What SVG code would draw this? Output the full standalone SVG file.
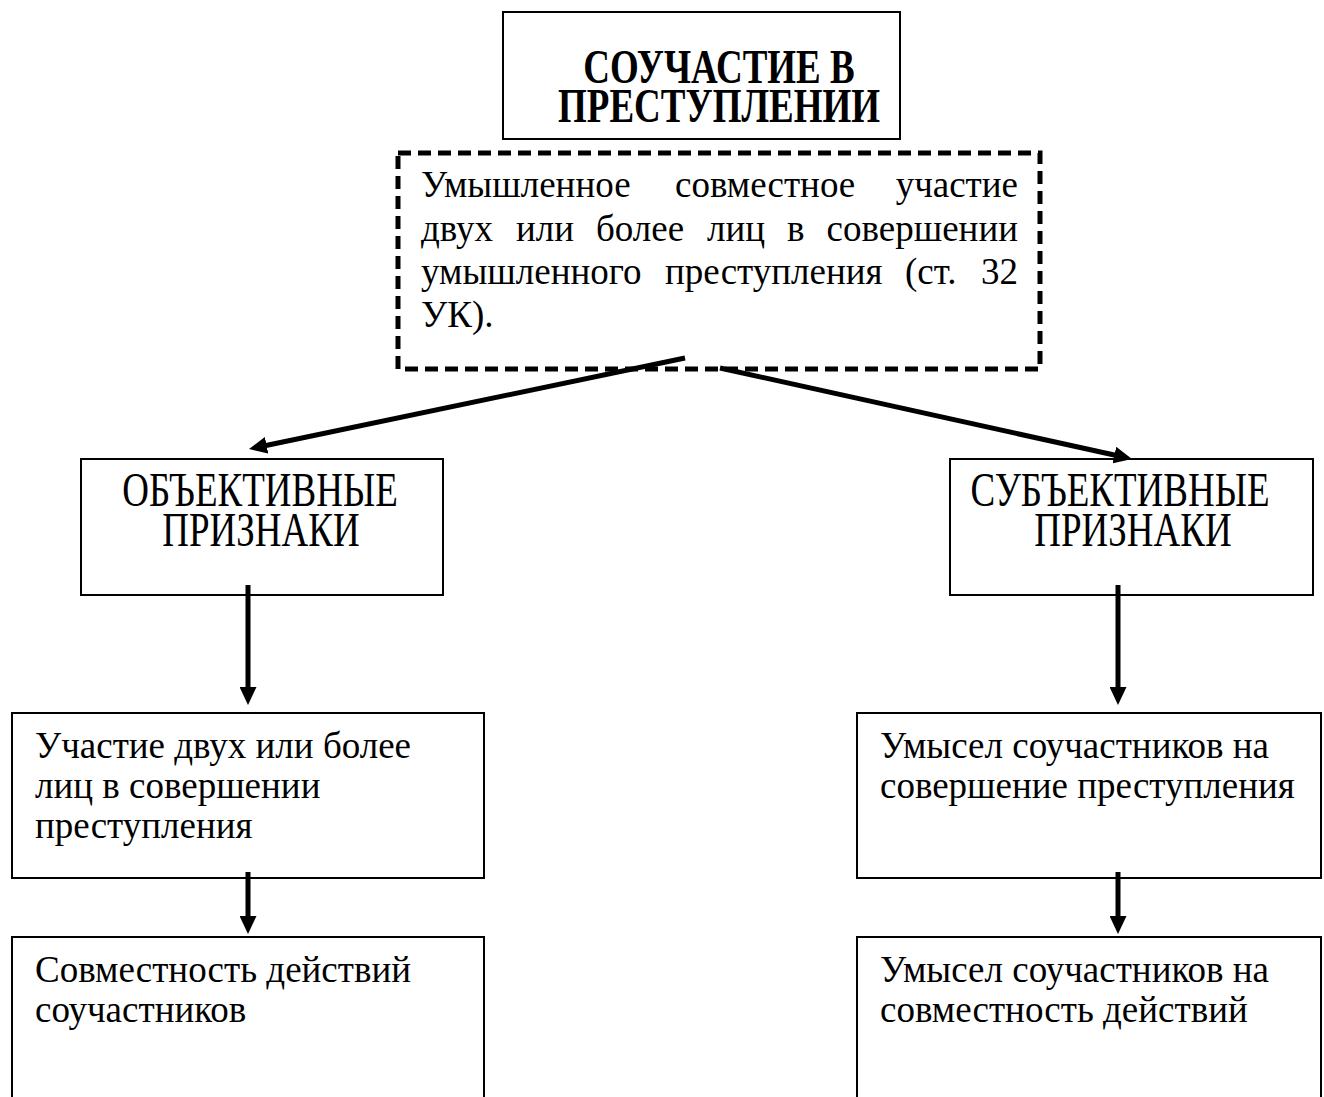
<svg xmlns="http://www.w3.org/2000/svg" width="1324" height="1097" viewBox="0 0 1324 1097">
<style>
.box{fill:#fff;stroke:#000;stroke-width:2}
.dash{fill:#fff;stroke:#000;stroke-width:5;stroke-dasharray:13 7}
.t{font-family:"Liberation Serif","Times New Roman",serif;font-size:37px;fill:#000}
.b{font-weight:bold}
.d{font-family:"Liberation Serif","Times New Roman",serif;font-size:37px;fill:#000}
.c{fill:none;stroke:#000;stroke-width:5}
</style>
<defs>
<marker id="ah" markerUnits="userSpaceOnUse" markerWidth="18" markerHeight="17" refX="8" refY="8.5" orient="auto">
<path d="M0,0 L18,8.5 L0,17 z" fill="#000"/>
</marker>
</defs>
<rect width="1324" height="1097" fill="#fff"/>

<g id="title">
<rect class="box" x="503" y="12" width="397" height="127"/>
<text class="t b" text-anchor="middle" transform="translate(719,83) scale(1,1.32)">СОУЧАСТИЕ В</text>
<text class="t b" text-anchor="middle" transform="translate(719,122) scale(1,1.32)">ПРЕСТУПЛЕНИИ</text>
</g>

<g id="definition">
<path class="dash" d="M398,153 H1040 V369 H398 Z"/>
<text class="d" y="197"><tspan x="421">Умышленное</tspan><tspan x="675">совместное</tspan><tspan x="1018" text-anchor="end">участие</tspan></text>
<text class="d" y="240.5"><tspan x="421">двух</tspan><tspan x="516">или</tspan><tspan x="596">более</tspan><tspan x="707">лиц</tspan><tspan x="787">в</tspan><tspan x="1018" text-anchor="end">совершении</tspan></text>
<text class="d" y="284"><tspan x="421">умышленного</tspan><tspan x="665">преступления</tspan><tspan x="905">(ст.</tspan><tspan x="1018" text-anchor="end">32</tspan></text>
<text class="d" x="421" y="327">УК).</text>
</g>

<g id="objective">
<rect class="box" x="81" y="459" width="362" height="136"/>
<text class="t" text-anchor="middle" transform="translate(260,506) scale(1,1.32)">ОБЪЕКТИВНЫЕ</text>
<text class="t" text-anchor="middle" transform="translate(261,546) scale(1,1.32)">ПРИЗНАКИ</text>
</g>

<g id="subjective">
<rect class="box" x="950" y="459" width="363" height="136"/>
<text class="t" text-anchor="middle" transform="translate(1120,506) scale(1,1.32)">СУБЪЕКТИВНЫЕ</text>
<text class="t" text-anchor="middle" transform="translate(1133,546) scale(1,1.32)">ПРИЗНАКИ</text>
</g>

<g id="obj1">
<rect class="box" x="12" y="713" width="472" height="165"/>
<text class="t" x="35" y="758">Участие двух или более</text>
<text class="t" x="35" y="798">лиц в совершении</text>
<text class="t" x="35" y="838">преступления</text>
</g>

<g id="obj2">
<rect class="box" x="12" y="937" width="472" height="200"/>
<text class="t" x="35" y="982">Совместность действий</text>
<text class="t" x="35" y="1022">соучастников</text>
</g>

<g id="subj1">
<rect class="box" x="857" y="713" width="464" height="165"/>
<text class="t" x="880" y="758">Умысел соучастников на</text>
<text class="t" x="880" y="798">совершение преступления</text>
</g>

<g id="subj2">
<rect class="box" x="857" y="937" width="464" height="200"/>
<text class="t" x="880" y="982">Умысел соучастников на</text>
<text class="t" x="880" y="1022">совместность действий</text>
</g>

<g id="connectors">
<line class="c" x1="685" y1="358" x2="258.8" y2="447" marker-end="url(#ah)"/>
<line class="c" x1="720" y1="368" x2="1122.2" y2="456.8" marker-end="url(#ah)"/>
<line class="c" x1="248" y1="585" x2="248" y2="695" marker-end="url(#ah)"/>
<line class="c" x1="1118" y1="585" x2="1118" y2="695" marker-end="url(#ah)"/>
<line class="c" x1="248" y1="872" x2="248" y2="924" marker-end="url(#ah)"/>
<line class="c" x1="1118" y1="872" x2="1118" y2="924" marker-end="url(#ah)"/>
</g>
</svg>
